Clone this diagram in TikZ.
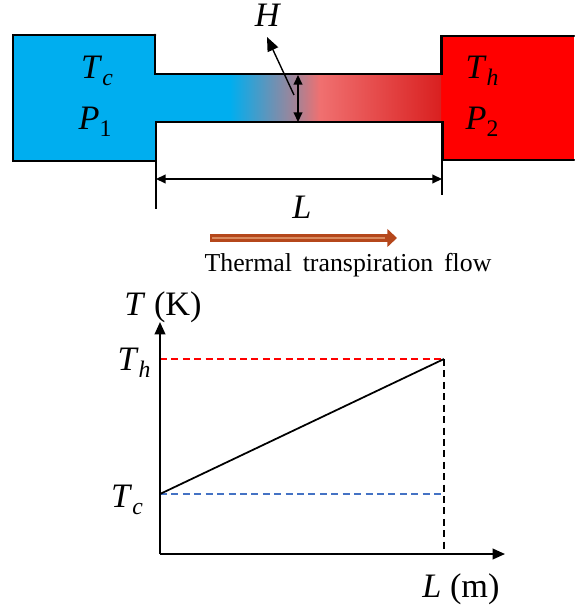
\documentclass[tikz,border=0pt]{standalone}
\usepackage{fontspec}
\setmainfont{Liberation Serif}
\usetikzlibrary{arrows.meta}
\definecolor{coldblue}{HTML}{00AEEF}
\definecolor{midgray}{HTML}{B08090}
\definecolor{warmpink}{HTML}{F07070}
\definecolor{hotred}{HTML}{D92020}
\definecolor{flowbrown}{HTML}{B5471B}
\definecolor{flowlight}{HTML}{D98A5F}
\definecolor{dashblue}{HTML}{4472C4}
\newcommand{\symsub}[2]{\textit{#1}\raisebox{-0.45ex}{\fontsize{13.5}{13.5}\selectfont\textit{#2}}}
\newcommand{\numsub}[2]{\textit{#1}\raisebox{-0.45ex}{\fontsize{13.5}{13.5}\selectfont #2}}
\tikzset{
	wall/.style = {line width = 1.7pt, line cap = round},
	dim/.style = {line width = 0.8pt, {Triangle[length=5.5pt,width=5pt]}-{Triangle[length=5.5pt,width=5pt]}},
	tick/.style = {line width = 0.6pt},
	axis/.style = {line width = 1.1pt, -{Triangle[length=7pt,width=6pt]}},
	guide/.style = {line width = 0.8pt, dashed, dash pattern = on 4pt off 2.5pt},
	label/.style = {font = \fontsize{19.5}{19.5}\selectfont, inner sep = 0pt}
}
\begin{document}
\begin{tikzpicture}[x=0.02cm, y=-0.02cm]
	\useasboundingbox (0, 0) rectangle (574, 614);
	\fill [coldblue] (13, 35) rectangle (155, 161);
	\fill [red] (441, 36) rectangle (574, 160);
	\fill [coldblue] (155, 74) rectangle (230, 122);
	\fill [left color = coldblue, right color = midgray] (230, 74) rectangle (300, 122);
	\fill [left color = midgray, right color = warmpink] (300, 74) rectangle (320, 122);
	\fill [left color = warmpink, right color = hotred] (320, 74) rectangle (441, 122);
	\draw [wall] (155, 35) -- (13, 35) -- (13, 161) -- (155, 161);
	\draw [wall] (155, 35) -- (155, 74) -- (441, 74) -- (441, 36) -- (574, 36);
	\draw [wall] (156, 161) -- (156, 122) -- (442, 122) -- (442, 160) -- (574, 160);
	\coordinate (channeltop) at (298, 75);
	\coordinate (channelbot) at (298, 122);
	\coordinate (leaderfoot) at (294, 95);
	\coordinate (leaderhead) at (267, 37);
	\coordinate (lengthleft) at (156, 179);
	\coordinate (lengthright) at (442, 179);
	\draw [tick] (156, 122) -- (156, 209);
	\draw [tick] (442, 122) -- (442, 195);
	\draw [dim] (channeltop) -- (channelbot);
	\draw [line width = 0.8pt, -{Triangle[length=8pt,width=6.5pt]}] (leaderfoot) -- (leaderhead);
	\draw [dim] (lengthleft) -- (lengthright);
	\node [label] (hlabel) at (268, 15) {\textit{H}};
	\node [label] (tcold) at (97, 71) {\symsub{T}{c}};
	\node [label] (pone) at (95, 122) {\numsub{P}{1}};
	\node [label] (thot) at (482, 71) {\symsub{T}{h}};
	\node [label] (ptwo) at (482, 122) {\numsub{P}{2}};
	\node [label] (llabel) at (302, 207) {\textit{L}};
	\coordinate (flowstart) at (210, 238);
	\coordinate (flowend) at (397, 238);
	\draw [flowbrown, line width = 4pt, -{Triangle[length=5.5pt,width=10pt]}] (flowstart) -- (flowend);
	\draw [flowlight, line width = 0.8pt] (212, 238) -- (385, 238);
	\node [inner sep = 0pt, font = \fontsize{14.7}{14.7}\selectfont] (flowlabel) at (348, 265) {Thermal\, transpiration\, flow};
	\coordinate (origin) at (160, 554);
	\coordinate (xtip) at (505, 554);
	\coordinate (ytip) at (160, 322);
	\coordinate (hotleft) at (160, 359);
	\coordinate (hotright) at (444, 359);
	\coordinate (coldleft) at (160, 494);
	\coordinate (coldright) at (444, 494);
	\coordinate (xend) at (444, 554);
	\draw [guide, red] (hotleft) -- (hotright);
	\draw [guide, dashblue] (coldleft) -- (coldright);
	\draw [guide] (hotright) -- (xend);
	\draw [line width = 1pt] (coldleft) -- (hotright);
	\draw [axis] (origin) -- (xtip);
	\draw [axis] (origin) -- (ytip);
	\node [label] (tunit) at (163, 307) {\textit{T} (K)};
	\node [label] (thaxis) at (134, 363) {\symsub{T}{h}};
	\node [label] (tcaxis) at (127, 500) {\symsub{T}{c}};
	\node [label] (lunit) at (461, 589) {\textit{L} (m)};
\end{tikzpicture}
\end{document}
